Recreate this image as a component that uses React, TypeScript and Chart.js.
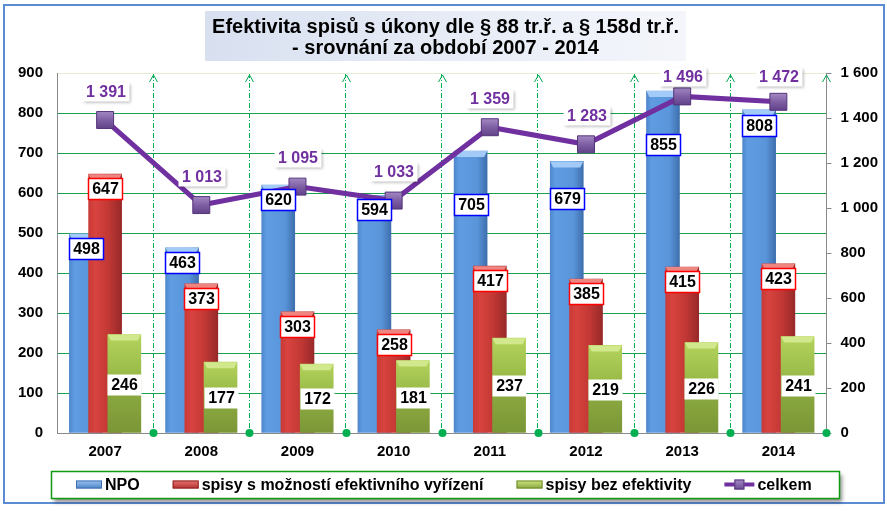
import React, { useEffect, useRef } from 'react';
import { Chart, registerables } from 'chart.js';

Chart.register(...registerables);

// ---------- data ----------
const YEARS = ['2007', '2008', '2009', '2010', '2011', '2012', '2013', '2014'];
const NPO = [498, 463, 620, 594, 705, 679, 855, 808];
const S_MOZNOSTI = [647, 373, 303, 258, 417, 385, 415, 423];
const BEZ_EFEKTIVITY = [246, 177, 172, 181, 237, 219, 226, 241];
const CELKEM = [1391, 1013, 1095, 1033, 1359, 1283, 1496, 1472];

const SERIES_NAMES = ['NPO', 'spisy s možností efektivního vyřízení', 'spisy bez efektivity', 'celkem'];
const TITLE_LINES = ['Efektivita spisů s úkony dle § 88 tr.ř. a § 158d tr.ř.', '- srovnání za období 2007 - 2014'];
const LEFT_MAX = 900;
const LEFT_STEP = 100;
const RIGHT_MAX = 1600;
const RIGHT_STEP = 200;

// ---------- style ----------
const FONT = "'Liberation Sans', Arial, sans-serif";
const BAR_W = 33;
const BAR_SHIFT = 0.2;
const NPO_LABEL_DROP = [4, 4, 4, 4, 43, 27, 43, 5];
const GREEN = '#00a651';
const LEGEND_GAP = 33;

const fmt = (v: number) => String(v).replace(/\B(?=(\d{3})+(?!\d))/g, ' ');

function hGrad(stops: [number, string][]) {
  return (c: any) => {
    const chart = c.chart;
    const xs = chart.scales && chart.scales.xb;
    if (!chart.chartArea || !xs || c.type !== 'data' || !c.raw) return stops[1][1];
    const cx = xs.getPixelForValue(c.raw.x);
    const g = chart.ctx.createLinearGradient(cx - BAR_W / 2, 0, cx + BAR_W / 2, 0);
    stops.forEach(([o, col]) => g.addColorStop(o, col));
    return g;
  };
}

function vGrad(stops: [number, string][]) {
  return (c: any) => {
    const chart = c.chart;
    const ys = chart.scales && chart.scales.y;
    if (!chart.chartArea || !ys || c.type !== 'data' || !c.raw) return stops[1][1];
    const top = ys.getPixelForValue(c.raw.y);
    const bot = ys.getPixelForValue(0);
    const g = chart.ctx.createLinearGradient(0, top, 0, bot);
    stops.forEach(([o, col]) => g.addColorStop(o, col));
    return g;
  };
}

const BEVEL = ['#a3cbf7', '#ee8581', '#d2e88c'];
const LEGEND_BAR_COLORS: [string, string, string][] = [
  ['#9cc4f2', '#4d84c8', '#3f6fae'],
  ['#e77772', '#b3302d', '#8e2522'],
  ['#cde47f', '#8aa83e', '#6e8a30'],
];

function drawLabel(ctx: CanvasRenderingContext2D, text: string, cx: number, top: number, h: number,
  border: string | null, color: string, shadow: boolean) {
  ctx.font = `bold 16px ${FONT}`;
  const w = Math.round(ctx.measureText(text).width + 7);
  const x = Math.round(cx - w / 2) + 0.5;
  const y = Math.round(top) + 0.5;
  ctx.save();
  if (shadow) {
    ctx.shadowColor = 'rgba(0,0,0,0.3)';
    ctx.shadowBlur = 3;
    ctx.shadowOffsetX = 1;
    ctx.shadowOffsetY = 1;
  }
  ctx.fillStyle = '#ffffff';
  ctx.fillRect(x, y, w, h);
  ctx.restore();
  if (border) {
    ctx.strokeStyle = border;
    ctx.lineWidth = 1.5;
    ctx.strokeRect(x, y, w, h);
  }
  ctx.fillStyle = color;
  ctx.textAlign = 'center';
  ctx.textBaseline = 'middle';
  ctx.fillText(text, x + w / 2, y + h / 2 + 1);
}

function drawLegend(chart: any) {
  const ctx: CanvasRenderingContext2D = chart.ctx;
  const ds = chart.data.datasets;
  ctx.save();
  ctx.font = `bold 16px ${FONT}`;
  const items = ds.map((d: any, i: number) => {
    const mw = d.type === 'line' ? 30 : 26;
    const tw = ctx.measureText(d.label).width;
    return { i, label: d.label, mw, tw, w: mw + 3 + tw, type: d.type };
  });
  const total = items.reduce((s: number, it: any) => s + it.w, 0) + LEGEND_GAP * (items.length - 1);
  let x = Math.round(chart.width / 2 - total / 2);
  const cy = chart.height - 26.5;
  const bl = x - 25;
  const br = x + total + 27;
  const bt = cy - 13.5;
  const bb = cy + 13.5;

  ctx.save();
  ctx.shadowColor = 'rgba(0,0,0,0.45)';
  ctx.shadowBlur = 4;
  ctx.shadowOffsetX = 2;
  ctx.shadowOffsetY = 3;
  ctx.fillStyle = '#ffffff';
  ctx.fillRect(Math.round(bl) + 0.5, Math.round(bt) + 0.5, Math.round(br - bl), Math.round(bb - bt));
  ctx.restore();
  ctx.strokeStyle = '#109a10';
  ctx.lineWidth = 1.5;
  ctx.strokeRect(Math.round(bl) + 0.5, Math.round(bt) + 0.5, Math.round(br - bl), Math.round(bb - bt));

  items.forEach((it: any) => {
    if (it.type === 'line') {
      ctx.fillStyle = '#7030a0';
      ctx.fillRect(x, cy - 2, 30, 4);
      const g = ctx.createLinearGradient(0, cy - 5, 0, cy + 5);
      g.addColorStop(0, '#a58cc6');
      g.addColorStop(1, '#6a4892');
      ctx.fillStyle = g;
      ctx.fillRect(x + 10, cy - 5, 10, 10);
      ctx.strokeStyle = '#55357a';
      ctx.lineWidth = 1;
      ctx.strokeRect(x + 10.5, cy - 4.5, 9, 9);
    } else {
      const [c0, c1, cb] = LEGEND_BAR_COLORS[it.i];
      const g = ctx.createLinearGradient(0, cy - 4, 0, cy + 4);
      g.addColorStop(0, c0);
      g.addColorStop(1, c1);
      ctx.fillStyle = g;
      ctx.fillRect(x, cy - 4, 26, 8);
      ctx.strokeStyle = cb;
      ctx.lineWidth = 1;
      ctx.strokeRect(x + 0.5, cy - 3.5, 25, 7);
    }
    ctx.fillStyle = '#000';
    ctx.textAlign = 'left';
    ctx.textBaseline = 'middle';
    ctx.fillText(it.label, x + it.mw + 3, cy + 1);
    x += it.w + LEGEND_GAP;
  });
  ctx.restore();
}

const decorPlugin = {
  id: 'decor',
  beforeDraw(chart: any) {
    const { ctx, width, height } = chart;
    ctx.save();
    ctx.fillStyle = '#ffffff';
    ctx.fillRect(0, 0, width, height);
    ctx.strokeStyle = '#5b8bd3';
    ctx.lineWidth = 2;
    ctx.strokeRect(4, 5, 880, 498);

    // title box
    const tb = chart.titleBlock;
    ctx.font = `bold 20px ${FONT}`;
    const tw = Math.max(...TITLE_LINES.map((t) => ctx.measureText(t).width));
    const bw = tw + 14;
    const cx = (tb.left + tb.right) / 2;
    const g = ctx.createLinearGradient(cx - bw / 2, 0, cx + bw / 2, 0);
    g.addColorStop(0, '#d8e0f0');
    g.addColorStop(1, '#f4f6fb');
    ctx.fillStyle = g;
    ctx.fillRect(Math.round(cx - bw / 2), tb.top, Math.round(bw), 50);
    ctx.restore();
  },
  afterDatasetDraw(chart: any, args: any) {
    const meta = args.meta;
    if (meta.type !== 'bar') return;
    const ctx = chart.ctx;
    ctx.save();
    meta.data.forEach((el: any) => {
      const l = el.x - el.width / 2;
      const r = el.x + el.width / 2;
      const t = el.y;
      ctx.fillStyle = BEVEL[args.index];
      ctx.beginPath();
      ctx.moveTo(l, t);
      ctx.lineTo(r, t);
      ctx.lineTo(r - 3, t + 6);
      ctx.lineTo(l + 3, t + 6);
      ctx.closePath();
      ctx.fill();
    });
    ctx.restore();
  },
  afterDatasetsDraw(chart: any) {
    const ctx = chart.ctx;
    const area = chart.chartArea;
    ctx.save();
    const n = YEARS.length;
    for (let i = 1; i <= n; i++) {
      const bx = Math.round(area.left + (i * (area.right - area.left)) / n) + 0.5;
      ctx.strokeStyle = GREEN;
      ctx.lineWidth = 1;
      ctx.beginPath();
      ctx.moveTo(bx - 4, area.top + 9);
      ctx.lineTo(bx, area.top + 2);
      ctx.lineTo(bx + 4, area.top + 9);
      ctx.stroke();
      ctx.fillStyle = '#00b050';
      ctx.beginPath();
      ctx.arc(bx, area.bottom, 4, 0, Math.PI * 2);
      ctx.fill();
    }

    const m0 = chart.getDatasetMeta(0);
    const m1 = chart.getDatasetMeta(1);
    const m2 = chart.getDatasetMeta(2);
    const m3 = chart.getDatasetMeta(3);
    m0.data.forEach((el: any, i: number) => {
      drawLabel(ctx, fmt(NPO[i]), el.x, el.y + NPO_LABEL_DROP[i], 21, '#0000ff', '#000', false);
    });
    m1.data.forEach((el: any, i: number) => {
      drawLabel(ctx, fmt(S_MOZNOSTI[i]), el.x, el.y + 4, 21, '#ff0000', '#000', false);
    });
    m2.data.forEach((el: any, i: number) => {
      drawLabel(ctx, fmt(BEZ_EFEKTIVITY[i]), el.x, (el.y + el.base) / 2 - 10, 21, null, '#000', false);
    });
    m3.data.forEach((el: any, i: number) => {
      const cy = Math.max(el.y - 29, area.top + 3);
      drawLabel(ctx, fmt(CELKEM[i]), el.x, cy - 9.5, 19, null, '#7030a0', true);
    });
    ctx.restore();
  },
  afterDraw(chart: any) {
    drawLegend(chart);
  },
};

export default function App() {
  const ref = useRef<HTMLCanvasElement>(null);

  useEffect(() => {
    if (!ref.current) return;
    const pointBg = (c: any) => {
      const chart = c.chart;
      const ys = chart.scales && chart.scales.y1;
      if (!chart.chartArea || !ys || c.type !== 'data') return '#8064a2';
      const py = ys.getPixelForValue(c.raw);
      const g = chart.ctx.createLinearGradient(0, py - 9, 0, py + 9);
      g.addColorStop(0, '#a48bc4');
      g.addColorStop(0.5, '#7f5fa4');
      g.addColorStop(1, '#5f3f86');
      return g;
    };

    const chart = new Chart(ref.current, {
      type: 'bar',
      data: {
        labels: YEARS,
        datasets: [
          {
            type: 'bar',
            label: SERIES_NAMES[0],
            data: NPO.map((v, i) => ({ x: i - BAR_SHIFT, y: v })) as any,
            xAxisID: 'xb',
            yAxisID: 'y',
            barThickness: BAR_W,
            grouped: false,
            order: 4,
            backgroundColor: hGrad([[0, '#4f87cc'], [0.15, '#5f9ce2'], [0.7, '#5a95da'], [1, '#3e6fae']]),
            borderWidth: 0,
          },
          {
            type: 'bar',
            label: SERIES_NAMES[1],
            data: S_MOZNOSTI.map((v, i) => ({ x: i, y: v })) as any,
            xAxisID: 'xb',
            yAxisID: 'y',
            barThickness: BAR_W,
            grouped: false,
            order: 3,
            backgroundColor: hGrad([[0, '#c93a36'], [0.2, '#d8433f'], [0.6, '#c23834'], [1, '#98292a']]),
            borderWidth: 0,
          },
          {
            type: 'bar',
            label: SERIES_NAMES[2],
            data: BEZ_EFEKTIVITY.map((v, i) => ({ x: i + BAR_SHIFT, y: v })) as any,
            xAxisID: 'xb',
            yAxisID: 'y',
            barThickness: BAR_W,
            grouped: false,
            order: 2,
            backgroundColor: vGrad([[0, '#b3d35c'], [0.35, '#9dbe4b'], [0.6, '#8aa840'], [1, '#7a9636']]),
            borderWidth: 0,
          },
          {
            type: 'line',
            label: SERIES_NAMES[3],
            data: CELKEM,
            xAxisID: 'x',
            yAxisID: 'y1',
            order: 1,
            borderColor: '#7030a0',
            borderWidth: 5,
            backgroundColor: '#7030a0',
            pointStyle: 'rect',
            pointRadius: 12,
            pointBackgroundColor: pointBg,
            pointBorderColor: '#55357a',
            pointBorderWidth: 1,
            tension: 0,
          } as any,
        ],
      },
      options: {
        responsive: false,
        animation: false,
        devicePixelRatio: 1,
        layout: { padding: { top: 11, left: 4, right: 0, bottom: 40 } },
        scales: {
          x: {
            type: 'category',
            offset: true,
            grid: {
              offset: true,
              drawTicks: false,
              color: (c: any) => (c.index === 0 ? 'rgba(0,0,0,0)' : '#00b050'),
              lineWidth: 1,
            },
            border: { color: '#8a8a8a', width: 1, dash: [5, 2, 1, 2] },
            ticks: { color: '#000', font: { family: FONT, size: 15, weight: 'bold' }, padding: 10 },
          },
          xb: {
            type: 'linear',
            display: false,
            offset: false,
            min: -0.5,
            max: YEARS.length - 0.5,
          },
          y: {
            position: 'left',
            min: 0,
            max: LEFT_MAX,
            ticks: { stepSize: LEFT_STEP, color: '#000', font: { family: FONT, size: 15, weight: 'bold' }, padding: 14 },
            grid: {
              drawTicks: false,
              color: (c: any) => {
                const v = c.tick ? c.tick.value : -1;
                if (v === 0) return 'rgba(0,0,0,0)';
                if (v === LEFT_MAX) return '#e6ebd3';
                return '#1aa04c';
              },
            },
            border: { color: '#8a8a8a', width: 1 },
          },
          y1: {
            position: 'right',
            min: 0,
            max: RIGHT_MAX,
            ticks: {
              stepSize: RIGHT_STEP,
              color: '#000',
              font: { family: FONT, size: 15, weight: 'bold' },
              padding: 9,
              callback: (v: any) => fmt(Number(v)),
            },
            grid: { drawOnChartArea: false, drawTicks: true, tickLength: 5, color: '#8a8a8a' },
            border: { color: '#8a8a8a', width: 1 },
          },
        },
        plugins: {
          title: {
            display: true,
            text: TITLE_LINES,
            color: '#000',
            font: { family: FONT, size: 20, weight: 'bold', lineHeight: 1.05 },
            padding: { top: 5.5, bottom: 14.5 },
          },
          legend: { display: false },
          tooltip: { enabled: false },
        },
      },
      plugins: [decorPlugin],
    } as any);
    return () => chart.destroy();
  }, []);

  return (
    <div style={{ position: 'fixed', left: 0, top: 0, width: 887, height: 511 }}>
      <canvas ref={ref} width={887} height={511} style={{ display: 'block', width: 887, height: 511 }} />
    </div>
  );
}
